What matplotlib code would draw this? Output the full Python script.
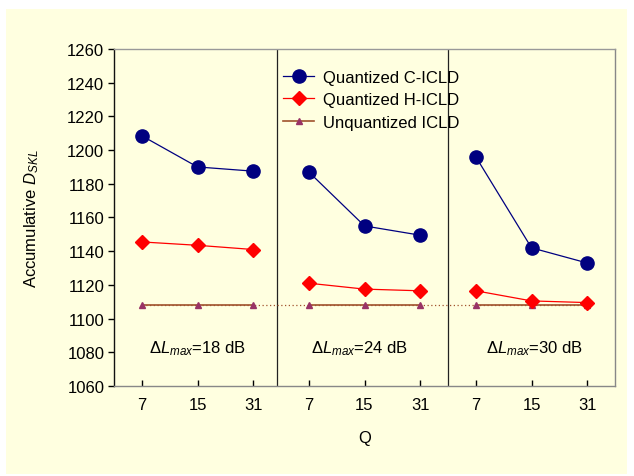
import matplotlib
matplotlib.use("Agg")
import matplotlib.pyplot as plt
from matplotlib.patches import Rectangle
import numpy as np

plt.rcParams['font.family'] = ['Liberation Sans', 'DejaVu Sans']
plt.rcParams['mathtext.fontset'] = 'custom'
plt.rcParams['mathtext.rm'] = 'Liberation Sans'
plt.rcParams['mathtext.it'] = 'Liberation Sans:italic'

q_labels = ['7', '15', '31']
groups = ['18', '24', '30']
c_icld = [[1208.5, 1190, 1187.5], [1187, 1155, 1149.5], [1196, 1142, 1133]]
h_icld = [[1145.5, 1143.5, 1141], [1121, 1117.5, 1116.5], [1116.5, 1110.5, 1109.5]]
unq_icld = [[1108, 1108, 1108], [1108, 1108, 1108], [1108, 1108, 1108]]

FS = 12
bg = '#FFFFE0'
fig = plt.figure(figsize=(6.34, 4.77), dpi=100)
fig.patch.set_facecolor('white')
fig.patches.append(Rectangle((6/634, 1-475/477), 621/634, 465/477,
                             transform=fig.transFigure, facecolor=bg,
                             edgecolor='none', zorder=-10))
ax = fig.add_axes([114/634, 1-387/477, 501/634, 337/477])
ax.set_facecolor(bg)

# dotted line for the unquantized level across the whole range
allx = np.arange(9)
ax.plot(allx, np.concatenate(unq_icld), color='#A0522D', lw=0.9, ls=(0, (1, 2)), zorder=2)

for g in range(3):
    x = np.arange(3) + 3 * g
    ax.plot(x, c_icld[g], color='#000080', lw=0.9, marker='o', ms=9.5,
            mfc='#000080', mec='#000080', zorder=4,
            label='Quantized C-ICLD' if g == 0 else None)
    ax.plot(x, h_icld[g], color='#FF0000', lw=0.9, marker='D', ms=7.5,
            mfc='#FF0000', mec='#FF0000', zorder=3,
            label='Quantized H-ICLD' if g == 0 else None)
    ax.plot(x, unq_icld[g], color='#A0522D', lw=1.2, marker='^', ms=4,
            mfc='#993366', mec='#993366', zorder=2,
            label='Unquantized ICLD' if g == 0 else None)

ax.axvline(2.42, color='#222222', lw=0.9, zorder=1)
ax.axvline(5.5, color='#222222', lw=0.9, zorder=1)

text_x = [1.0, 3.92, 7.06]
for g in range(3):
    ax.text(text_x[g], 1082.5, r'$\Delta L_{max}$=' + groups[g] + ' dB',
            ha='center', va='center', fontsize=FS)

ax.set_xlim(-0.5, 8.5)
ax.set_ylim(1060, 1260)
ax.set_yticks(np.arange(1060, 1261, 20))
ax.set_xticks(allx)
ax.set_xticklabels(q_labels * 3)
ax.tick_params(axis='x', direction='in', length=4, width=1, labelsize=FS, pad=8)
ax.tick_params(axis='y', direction='out', length=4, width=1, labelsize=FS, pad=3)

ax.spines['left'].set_color('#111111')
ax.spines['bottom'].set_color('#888888')
ax.spines['top'].set_color('#999999')
ax.spines['right'].set_color('#888888')
for s in ax.spines.values():
    s.set_linewidth(1.0)

ax.set_ylabel(r'Accumulative $D_{SKL}$', fontsize=FS, labelpad=19)
ax.set_xlabel('Q', fontsize=FS, labelpad=13)

leg = ax.legend(loc='upper left', bbox_to_anchor=(162/501, 1 - 14/337), frameon=False,
                fontsize=FS, handlelength=1.9, handletextpad=0.5,
                labelspacing=0.45, borderaxespad=0)

fig.savefig('out.png', dpi=100, facecolor='white')
